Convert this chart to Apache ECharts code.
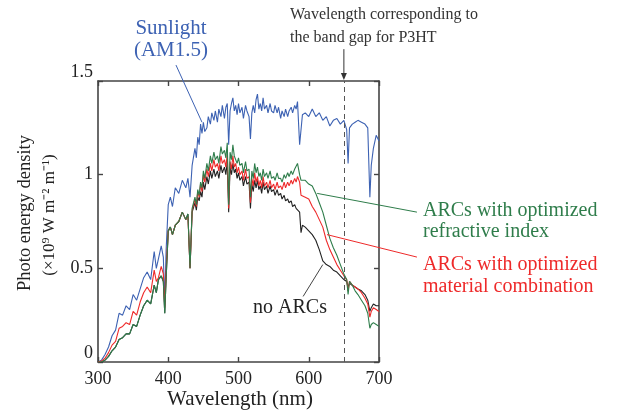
<!DOCTYPE html>
<html><head><meta charset="utf-8">
<script src="https://cdn.jsdelivr.net/npm/echarts@6/dist/echarts.min.js"></script>
<style>html,body{margin:0;padding:0;background:#fff}#c{width:624px;height:414px}</style>
</head><body><div id="c"></div>
<script>
// Wavelength (nm)
const wavelengths = [
  300,305,310,315,320,325,330,335,340,345,
  350,355,360,365,370,375,380,383,386,390,
  393,395,397,400,403,406,410,415,420,425,
  428,431,434,
  438,440,442,444,446,448,450,452,455,457,
  460,462,465,467,470,472,475,477,480,482,
  484,486,488,490,492,494,496,498,500,502,
  505,507,510,512,515,517,519,521,523,525,
  527,529,531,533,535,537,540,542,545,547,
  550,552,555,557,560,562,565,567,570,572,
  575,577,580,582,584,587,589,591,
  595,600,605,610,615,620,625,630,635,
  640,645,650,654,656,658,662,666,670,675,
  680,684,687,689,692,696,700
];
// Photo energy density (x10^9 W m^-2 m^-1)
const sunlight = [
  0.00,0.01,0.04,0.08,0.14,0.17,0.26,0.25,0.30,0.28,
  0.36,0.33,0.39,0.45,0.48,0.44,0.59,0.50,0.55,0.62,
  0.56,0.32,0.60,0.84,0.88,0.83,0.93,0.90,0.97,0.93,
  0.98,0.88,1.05,
  1.14,1.09,1.20,1.16,1.27,1.22,1.28,1.23,1.25,1.31,
  1.27,1.33,1.29,1.34,1.28,1.35,1.31,1.37,1.30,1.36,
  1.38,1.16,1.34,1.38,1.41,1.34,1.37,1.32,1.38,1.33,
  1.36,1.30,1.37,1.34,1.31,1.19,1.33,1.37,1.33,1.40,
  1.43,1.35,1.38,1.34,1.41,1.35,1.37,1.33,1.38,1.34,
  1.33,1.37,1.33,1.36,1.30,1.34,1.31,1.35,1.31,1.34,
  1.36,1.33,1.37,1.35,1.39,1.16,1.24,1.32,
  1.33,1.31,1.35,1.31,1.33,1.29,1.31,1.26,1.29,
  1.30,1.27,1.29,1.24,1.06,1.25,1.27,1.28,1.29,1.28,
  1.27,1.25,0.88,1.05,1.14,1.21,1.18
];
const noARCs = [
  0.00,0.00,0.01,0.03,0.06,0.08,0.12,0.13,0.15,0.15,
  0.20,0.19,0.25,0.30,0.33,0.31,0.41,0.37,0.44,0.46,
  0.43,0.26,0.45,0.70,0.72,0.68,0.73,0.75,0.80,0.76,
  0.79,0.50,0.80,
  0.85,0.81,0.88,0.86,0.91,0.88,0.96,0.92,0.99,0.95,
  1.02,0.98,1.03,0.99,1.02,0.98,1.05,1.01,1.04,1.00,
  1.07,0.80,1.04,1.00,1.06,1.01,1.03,0.98,1.01,0.97,
  0.99,0.94,0.99,0.95,0.96,0.82,0.95,0.91,0.97,0.93,
  0.97,0.92,0.94,0.90,0.96,0.92,0.94,0.90,0.94,0.91,
  0.92,0.89,0.92,0.89,0.90,0.87,0.89,0.86,0.87,0.85,
  0.86,0.83,0.84,0.82,0.83,0.80,0.69,0.73,
  0.72,0.70,0.68,0.65,0.60,0.54,0.52,0.51,0.49,
  0.48,0.46,0.44,0.43,0.40,0.42,0.41,0.40,0.39,0.38,
  0.36,0.33,0.27,0.29,0.31,0.30,0.30
];
const optMaterial = [
  0.00,0.005,0.02,0.05,0.09,0.11,0.18,0.19,0.21,0.20,
  0.27,0.25,0.32,0.37,0.40,0.37,0.49,0.43,0.45,0.51,
  0.47,0.29,0.49,0.70,0.72,0.68,0.73,0.75,0.80,0.76,
  0.78,0.50,0.81,
  0.87,0.83,0.91,0.88,0.95,0.91,1.00,0.96,1.03,0.99,
  1.06,1.02,1.08,1.04,1.06,1.02,1.10,1.06,1.08,1.04,
  1.11,0.82,1.07,1.03,1.10,1.04,1.06,1.01,1.04,1.00,
  1.02,0.97,1.03,0.98,0.99,0.85,0.98,0.94,1.01,0.96,
  0.99,0.94,0.97,0.93,0.99,0.94,0.96,0.93,0.97,0.93,
  0.95,0.92,0.96,0.93,0.94,0.92,0.96,0.93,0.96,0.94,
  0.97,0.95,0.98,0.96,0.99,0.96,0.89,0.90,
  0.88,0.87,0.83,0.80,0.76,0.72,0.65,0.60,0.56,
  0.52,0.49,0.46,0.44,0.38,0.43,0.41,0.40,0.39,0.37,
  0.34,0.31,0.24,0.27,0.29,0.28,0.27
];
const optIndex = [
  0.00,0.00,0.01,0.03,0.06,0.08,0.12,0.13,0.15,0.15,
  0.20,0.19,0.25,0.30,0.33,0.31,0.41,0.37,0.44,0.46,
  0.43,0.26,0.45,0.70,0.72,0.68,0.73,0.75,0.80,0.76,
  0.79,0.50,0.82,
  0.88,0.84,0.92,0.89,0.96,0.93,1.02,0.98,1.06,1.02,
  1.10,1.06,1.12,1.08,1.10,1.06,1.15,1.11,1.13,1.09,
  1.17,0.84,1.12,1.08,1.16,1.10,1.11,1.06,1.09,1.05,
  1.06,1.01,1.07,1.02,1.03,0.88,1.02,0.98,1.06,1.01,
  1.04,0.99,1.01,0.97,1.03,0.99,1.01,0.98,1.02,0.98,
  0.99,0.97,1.01,0.98,0.98,0.96,1.00,0.98,1.01,0.99,
  1.02,1.00,1.03,1.02,1.06,1.00,0.97,0.98,
  0.97,0.95,0.94,0.90,0.85,0.80,0.73,0.66,0.61,
  0.57,0.52,0.47,0.44,0.36,0.43,0.41,0.38,0.36,0.33,
  0.30,0.26,0.18,0.20,0.21,0.20,0.19
];
const bandGapWavelength = 650;
const seriesNames = ['Sunlight (AM1.5)', 'no ARCs', 'ARCs with optimized material combination', 'ARCs with optimized refractive index'];

const FONT = '"Liberation Serif", "Times New Roman", serif';
const C_BLUE = '#3d62b3', C_BLACK = '#222222', C_RED = '#ee2a2a', C_GREEN = '#2f7d4b';

function pairs(ys) { return wavelengths.map((w, i) => [w, ys[i]]); }
function lineSeries(name, ys, color, extra) {
  return Object.assign({
    name, type: 'line', data: pairs(ys), showSymbol: false, symbol: 'none',
    lineStyle: { color, width: 1.1 }, itemStyle: { color }, animation: false, z: 3
  }, extra || {});
}

const chart = echarts.init(document.getElementById('c'), null, { renderer: 'canvas' });
const axisLine = { show: true, onZero: false, lineStyle: { color: '#444', width: 1.6 } };
const tick = { show: true, inside: true, length: 5, lineStyle: { color: '#444', width: 1.4 } };
chart.setOption({
  animation: false,
  backgroundColor: '#fff',
  grid: { left: 98, right: 245, top: 81, bottom: 52, containLabel: false },
  xAxis: [
    { type: 'value', min: 300, max: 700, interval: 100, position: 'bottom',
      axisLine, axisTick: tick, splitLine: { show: false },
      axisLabel: { color: '#222', fontFamily: FONT, fontSize: 18, margin: 8 } },
    { type: 'value', min: 300, max: 700, interval: 100, position: 'top',
      axisLine, axisTick: tick, splitLine: { show: false }, axisLabel: { show: false } }
  ],
  yAxis: [
    { type: 'value', min: 0, max: 1.5, interval: 0.5, position: 'left',
      axisLine, axisTick: tick, splitLine: { show: false },
      axisLabel: { color: '#222', fontFamily: FONT, fontSize: 18, margin: 5,
        verticalAlignMinLabel: 'bottom', verticalAlignMaxLabel: 'bottom' } },
    { type: 'value', min: 0, max: 1.5, interval: 0.5, position: 'right',
      axisLine, axisTick: tick, splitLine: { show: false }, axisLabel: { show: false } }
  ],
  series: [
    lineSeries(seriesNames[0], sunlight, C_BLUE, {
      markLine: { silent: true, symbol: ['none', 'none'], label: { show: false },
        lineStyle: { color: '#555', type: [5, 4], width: 1 },
        data: [{ xAxis: bandGapWavelength }] }
    }),
    lineSeries(seriesNames[1], noARCs, C_BLACK),
    lineSeries(seriesNames[2], optMaterial, C_RED),
    lineSeries(seriesNames[3], optIndex, C_GREEN)
  ]
});

// Annotation leaders anchored in data coordinates
function px(x, y) { return chart.convertToPixel({ xAxisIndex: 0, yAxisIndex: 0 }, [x, y]); }
function seg(a, b, color) {
  const p = px(a[0], a[1]), q = px(b[0], b[1]);
  return { type: 'line', shape: { x1: p[0], y1: p[1], x2: q[0], y2: q[1] }, style: { stroke: color, lineWidth: 1 }, z: 10 };
}
function txt(text, x, y, size, color, align, lh) {
  return { type: 'text', x, y, z: 10, style: { text, fill: color, fontSize: size, fontFamily: FONT,
    align: align || 'left', verticalAlign: 'top', lineHeight: lh || size } };
}
const arrTop = px(bandGapWavelength, 1.67), arrBot = px(bandGapWavelength, 1.505);
chart.setOption({
  graphic: [
    seg([411, 1.585], [448, 1.28], C_BLUE),
    seg([612, 0.90], [754, 0.80], C_GREEN),
    seg([626, 0.68], [754, 0.56], C_RED),
    seg([592, 0.35], [620, 0.52], '#444'),
    { type: 'line', shape: { x1: arrTop[0], y1: arrTop[1], x2: arrBot[0], y2: arrBot[1] - 4 }, style: { stroke: '#333', lineWidth: 1 }, z: 10 },
    { type: 'polygon', shape: { points: [[arrBot[0] - 3, arrBot[1] - 7], [arrBot[0] + 3, arrBot[1] - 7], [arrBot[0], arrBot[1]]] }, style: { fill: '#333' }, z: 10 },
    txt('Sunlight\n(AM1.5)', 171, 17, 21, C_BLUE, 'center', 22),
    txt('Wavelength corresponding to\nthe band gap for P3HT', 290, 3, 16, '#333', 'left', 23),
    txt('ARCs with optimized\nrefractive index', 423, 200, 20, C_GREEN, 'left', 21),
    txt('ARCs with optimized\nmaterial combination', 423, 254, 20, C_RED, 'left', 22),
    txt('no ARCs', 290, 298, 20, '#222', 'center', 20),
    txt('Wavelength (nm)', 240, 389, 21, '#222', 'center', 21),
    { type: 'text', x: 25, y: 213, rotation: Math.PI / 2, z: 10,
      style: { text: 'Photo energy density', fill: '#222', fontSize: 18.5, fontFamily: FONT, align: 'center', verticalAlign: 'middle' } },
    { type: 'text', x: 50, y: 215, rotation: Math.PI / 2, z: 10,
      style: { text: '(\u00d710\u2079 W m\u207b\u00b2 m\u207b\u00b9)', fill: '#222', fontSize: 17, fontFamily: FONT, align: 'center', verticalAlign: 'middle' } }
  ]
});
</script>
</body></html>
